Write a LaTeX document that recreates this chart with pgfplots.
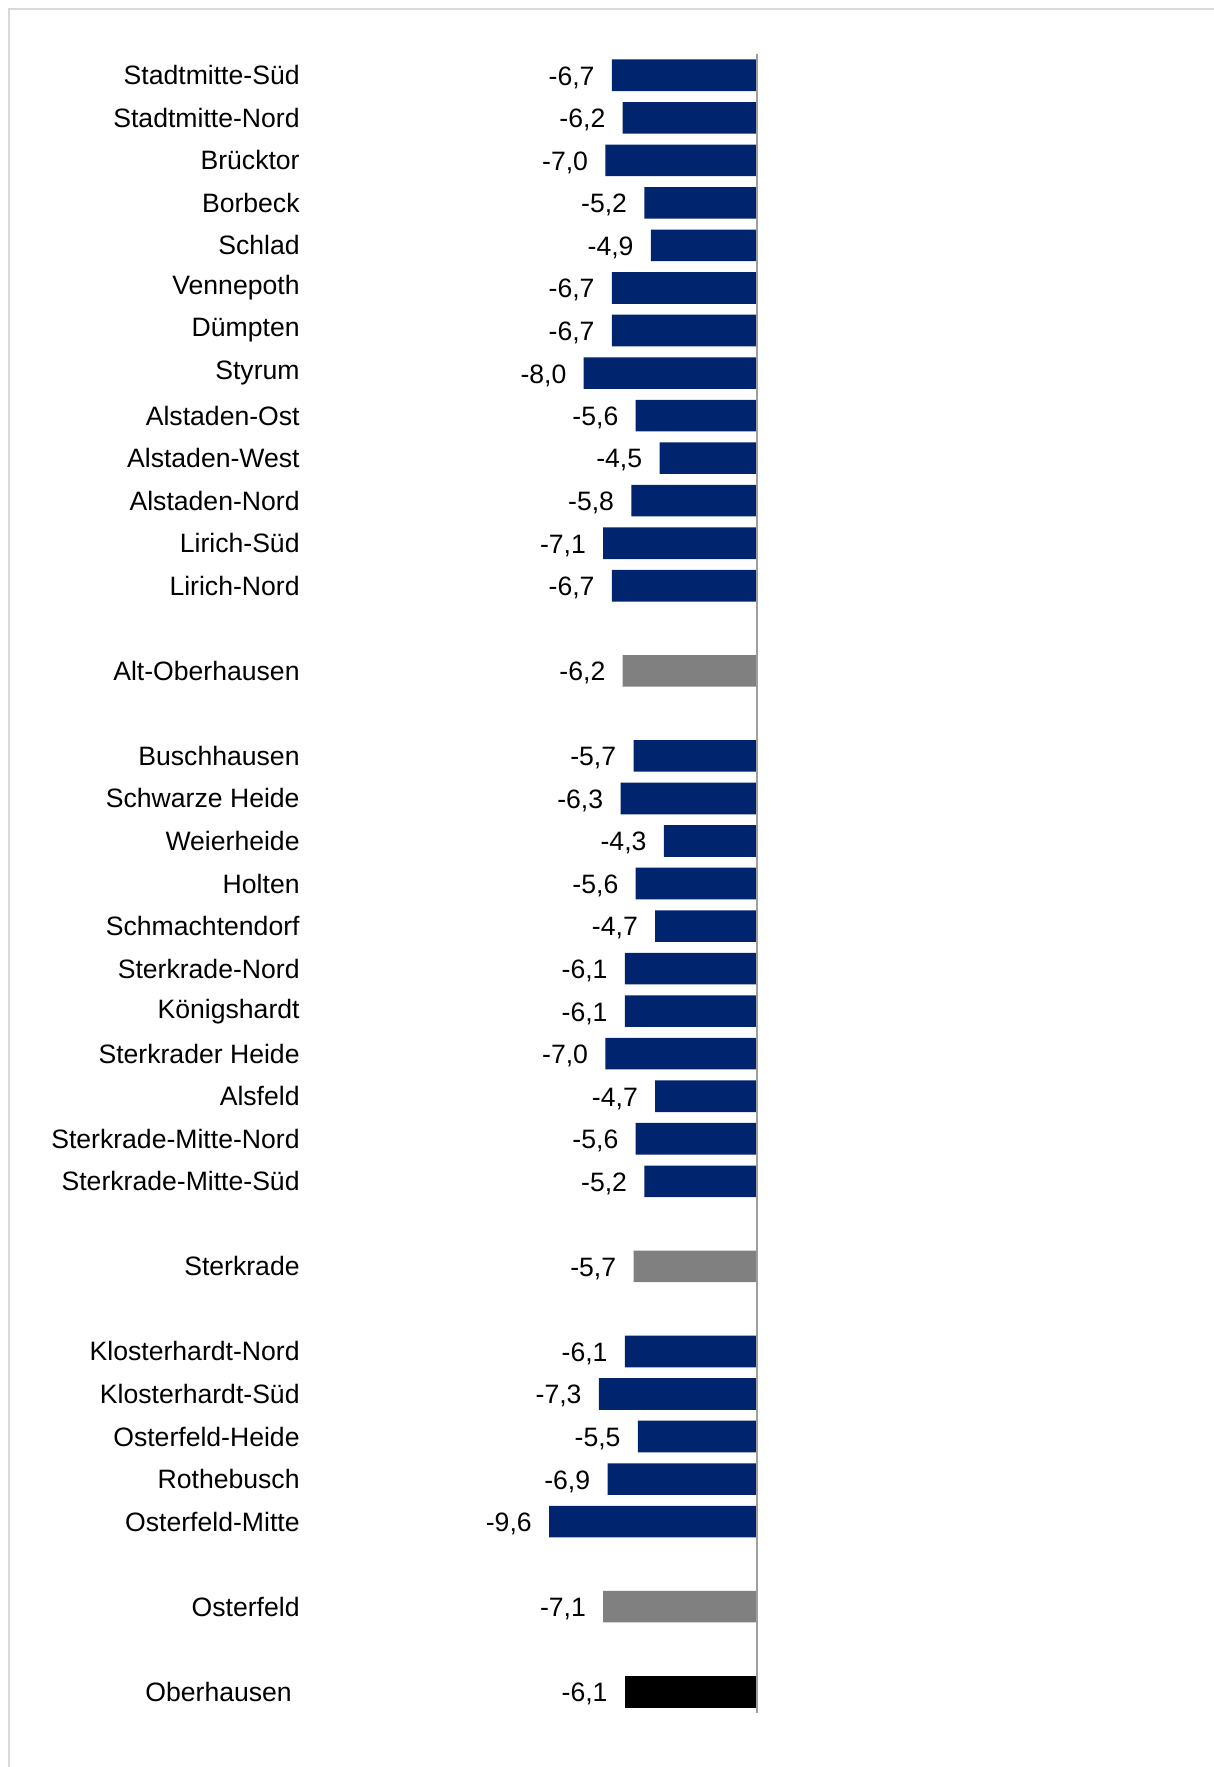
\documentclass[border=0pt]{standalone}
\usepackage{pgfplots}
\pgfplotsset{compat=1.18}
\usepackage{fontspec}
\setmainfont{Liberation Sans}
\definecolor{navy}{RGB}{0,36,110}
\definecolor{midgray}{RGB}{128,128,128}
\definecolor{framegray}{RGB}{217,217,217}
\begin{document}
\begin{tikzpicture}
\path[use as bounding box] (0,0) rectangle (607pt,-883.5pt);
\draw[framegray, line width=1pt] (4.5pt,-900pt) -- (4.5pt,-4.5pt) -- (620pt,-4.5pt);
\begin{axis}[
    at={(155pt,-27pt)}, anchor=north west,
    scale only axis,
    width=223.5pt, height=829.5pt,
    xbar, bar width=15.8pt, bar shift=0pt,
    xmin=-20.64, xmax=0,
    ymin=-0.5, ymax=38.5, y dir=reverse,
    axis line style={draw=none},
    xtick=\empty,
    ytick={0,1,2,3,4,5,6,7,8,9,10,11,12,14,16,17,18,19,20,21,22,23,24,25,26,28,30,31,32,33,34,36,38},
    yticklabels={Stadtmitte-Süd,Stadtmitte-Nord,Brücktor,Borbeck,Schlad,Vennepoth,Dümpten,Styrum,Alstaden-Ost,Alstaden-West,Alstaden-Nord,Lirich-Süd,Lirich-Nord,Alt-Oberhausen,Buschhausen,Schwarze Heide,Weierheide,Holten,Schmachtendorf,Sterkrade-Nord,Königshardt,Sterkrader Heide,Alsfeld,Sterkrade-Mitte-Nord,Sterkrade-Mitte-Süd,Sterkrade,Klosterhardt-Nord,Klosterhardt-Süd,Osterfeld-Heide,Rothebusch,Osterfeld-Mitte,Osterfeld,Oberhausen\hspace*{3.9pt}},
    major tick length=0pt,
    yticklabel style={font=\fontsize{13.3}{16}\selectfont, inner sep=0pt, xshift=-5pt},
    /pgf/number format/fixed,
    /pgf/number format/fixed zerofill,
    /pgf/number format/precision=1,
    /pgf/number format/use comma,
    /pgf/number format/assume math mode=true,
    nodes near coords,
    every node near coord/.append style={anchor=east, inner sep=0pt, xshift=-8.5pt, yshift=-1.2pt, font=\fontsize{13.3}{16}\selectfont, text=black},
    clip=false,
]
\addplot[fill=navy, draw=none] coordinates {
    (-6.7,0) (-6.2,1) (-7.0,2) (-5.2,3) (-4.9,4) (-6.7,5) (-6.7,6) (-8.0,7)
    (-5.6,8) (-4.5,9) (-5.8,10) (-7.1,11) (-6.7,12)
    (-5.7,16) (-6.3,17) (-4.3,18) (-5.6,19) (-4.7,20) (-6.1,21) (-6.1,22)
    (-7.0,23) (-4.7,24) (-5.6,25) (-5.2,26)
    (-6.1,30) (-7.3,31) (-5.5,32) (-6.9,33) (-9.6,34)
};
\addplot[fill=midgray, draw=none] coordinates {
    (-6.2,14) (-5.7,28) (-7.1,36)
};
\addplot[fill=black, draw=none] coordinates {
    (-6.1,38)
};
\draw[gray!75, line width=1pt] (rel axis cs:1,0) -- (rel axis cs:1,1);
\end{axis}
\end{tikzpicture}
\end{document}
